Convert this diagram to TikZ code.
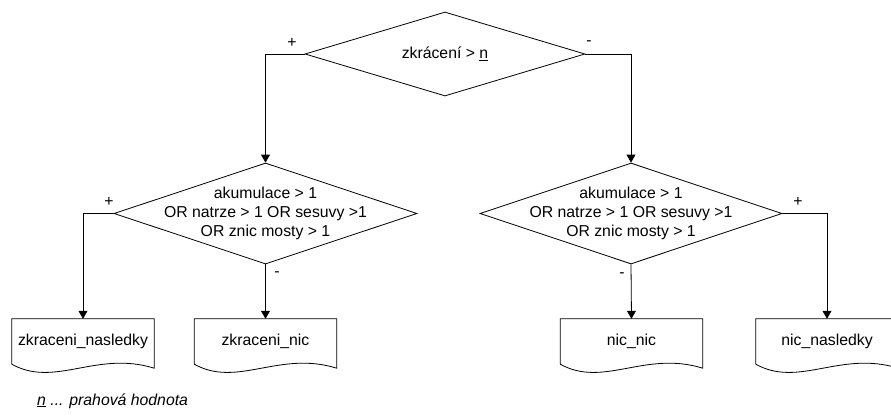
\documentclass[tikz,border=0pt]{standalone}
\usepackage{fontspec}
\setmainfont{Liberation Sans}
\usetikzlibrary{shapes.geometric,arrows.meta,calc}
\begin{document}
\begin{tikzpicture}[x=1pt,y=-1pt,
  every node/.style={font=\fontsize{15.8}{19.3}\selectfont},
  dia/.style={draw,shape=diamond,inner sep=0pt,line width=0.8pt},
  txt/.style={align=center,inner sep=0pt},
  docbox/.style={rectangle,inner sep=0pt,minimum width=142pt,minimum height=45pt},
  sign/.style={inner sep=0pt},
  conn/.style={line width=0.8pt,-{Triangle[length=8pt,width=9pt]}},
  plain/.style={line width=0.8pt},
  outline/.style={line width=0.8pt,line join=miter}
]
\useasboundingbox (0,0) rectangle (891,415);
\clip (0,0) rectangle (891,415);
\fill[white] (0,0) rectangle (891,415);

% decisions
\node[dia,minimum width=280pt,minimum height=84pt] (d0) at (445,54) {};
\node[txt] (d0t) at (d0.center) {zkrácení > \underline{n}};
\node[dia,minimum width=303pt,minimum height=101pt] (d1) at (265.5,213.5) {};
\node[txt] (d1t) at (d1.center) {akumulace > 1\\OR natrze > 1 OR sesuvy >1\\OR znic mosty > 1};
\node[dia,minimum width=302pt,minimum height=101pt] (d2) at (631,213.5) {};
\node[txt] (d2t) at (d2.center) {akumulace > 1\\OR natrze > 1 OR sesuvy >1\\OR znic mosty > 1};

% documents
\node[docbox] (b1) at (83,341.5) {zkraceni\_nasledky};
\node[docbox] (b2) at (265.5,341.5) {zkraceni\_nic};
\node[docbox] (b3) at (631.5,341.5) {nic\_nic};
\node[docbox] (b4) at (827,341.5) {nic\_nasledky};
\foreach \b in {b1,b2,b3,b4}{
  \draw[outline] (\b.south west) -- (\b.north west) -- (\b.north east)
    -- ($(\b.south east)+(0,4)$)
    .. controls ($(\b.south west)+(85,-14)$) and ($(\b.south west)+(43,24)$) .. (\b.south west);
}

% connectors
\draw[conn] (d0.west) -| (d1.north);
\draw[conn] (d0.east) -| (d2.north);
\draw[conn] (d1.west) -| (b1.north);
\draw[conn] (d1.south) -- (b2.north);
\draw[conn] (d2.south) -- (b3.north);
\draw[conn] (d2.east) -| (b4.north);

% branch signs
\node[sign] (s0p) at (292,43) {+};
\node[sign] (s0m) at (589,43) {-};
\node[sign] (s1p) at (109,202) {+};
\node[sign] (s1m) at (277,274) {-};
\node[sign] (s2m) at (622,275) {-};
\node[sign] (s2p) at (798,202) {+};

% footnote
\node[anchor=west,inner sep=0pt] (note) at (37,401) {\itshape\underline{n} ... prahová hodnota};
\end{tikzpicture}
\end{document}
